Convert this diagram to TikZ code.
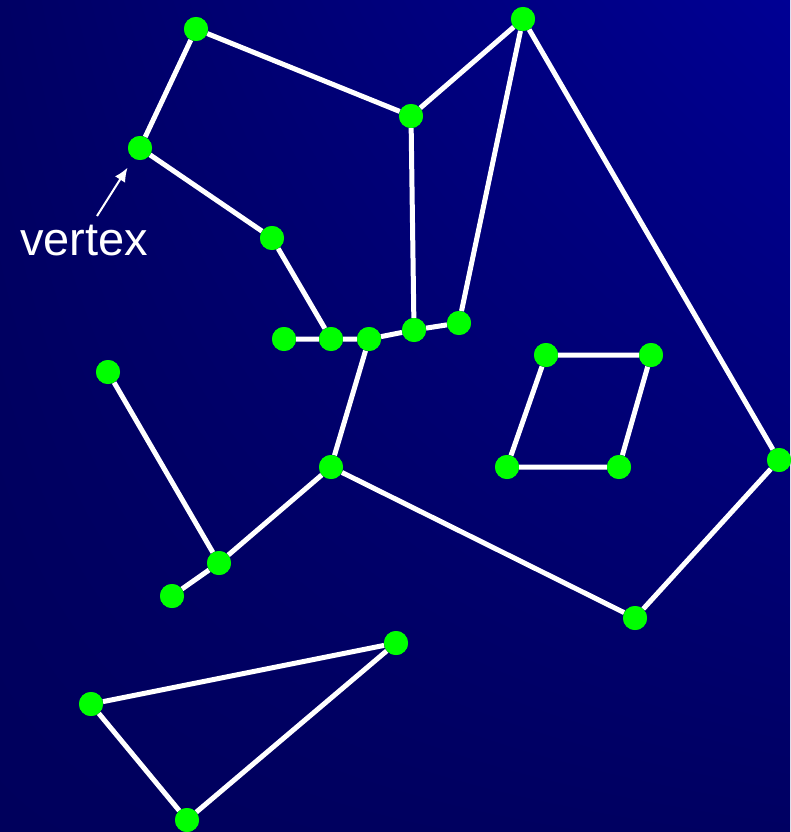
\documentclass[tikz,border=0pt]{standalone}
\usepackage{fontspec}
\setmainfont{Liberation Sans}
\usetikzlibrary{shadings,arrows.meta}
\definecolor{bgll}{HTML}{00005C}
\definecolor{bgul}{HTML}{000064}
\definecolor{bglr}{HTML}{000062}
\definecolor{bgur}{HTML}{000094}
\definecolor{vgreen}{HTML}{00FF00}
\begin{document}
\begin{tikzpicture}[x=1pt,y=-1pt,
  vtx/.style={circle,fill=vgreen,minimum size=24pt,inner sep=0pt},
  edge/.style={draw=white,line width=5pt},
  lbl/.style={text=white,font=\fontsize{47}{50}\selectfont,inner sep=0pt}]
\shade[lower left=bgll,upper left=bgul,lower right=bglr,upper right=bgur] (0,0) rectangle (790,832);
\useasboundingbox (0,0) rectangle (790,832);
\node[vtx] (A) at (196,29) {};
\node[vtx] (B) at (140,148) {};
\node[vtx] (C) at (272,238) {};
\node[vtx] (D) at (411,116) {};
\node[vtx] (E) at (523,19) {};
\node[vtx] (F) at (284,339) {};
\node[vtx] (G) at (331,339) {};
\node[vtx] (H) at (369,339) {};
\node[vtx] (I) at (414,330) {};
\node[vtx] (J) at (459,323) {};
\node[vtx] (K) at (546,355) {};
\node[vtx] (L) at (651,355) {};
\node[vtx] (M) at (507,467) {};
\node[vtx] (N) at (619,467) {};
\node[vtx] (O) at (779,460) {};
\node[vtx] (P) at (635,618) {};
\node[vtx] (Q) at (331,467) {};
\node[vtx] (R) at (108,372) {};
\node[vtx] (S) at (219,563) {};
\node[vtx] (T) at (172,596) {};
\node[vtx] (U) at (396,643) {};
\node[vtx] (V) at (91,704) {};
\node[vtx] (W) at (187,820) {};
\path[edge] (A)--(B) (A)--(D) (B)--(C) (C)--(G) (D)--(E) (D)--(I) (E)--(J) (E)--(O)
  (O)--(P) (P)--(Q) (Q)--(H) (Q)--(S) (S)--(R) (S)--(T) (F)--(G) (G)--(H) (H)--(I) (I)--(J)
  (K)--(L) (L)--(N) (N)--(M) (M)--(K) (U)--(V) (V)--(W) (W)--(U);
\foreach \n in {A,B,C,D,E,F,G,H,I,J,K,L,M,N,O,P,Q,R,S,T,U,V,W}
  \fill[vgreen] (\n.center) circle (12pt);
\node[lbl] (vlabel) at (84,241) {vertex};
\coordinate (tail) at (97,216);
\draw[white,line width=2pt,-{Latex[length=14pt,width=12pt]},shorten >=11pt] (tail) -- (B);
\end{tikzpicture}
\end{document}
